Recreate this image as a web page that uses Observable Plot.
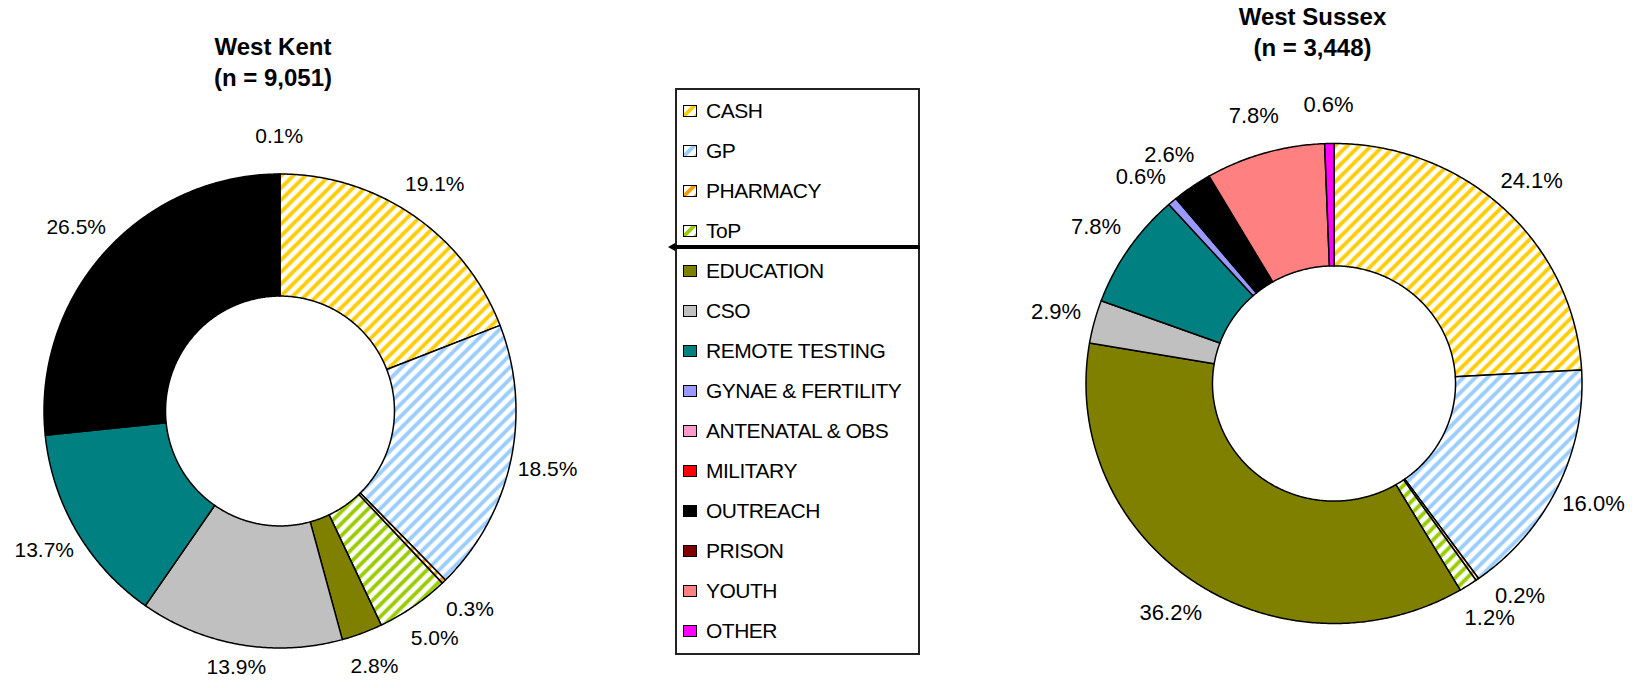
<!DOCTYPE html>
<html><head><meta charset="utf-8">
<script src="https://cdn.jsdelivr.net/npm/d3@7"></script>
<script src="https://cdn.jsdelivr.net/npm/@observablehq/plot@0.6"></script>
<style>
html,body{margin:0;padding:0;background:#fff;}
#page{position:relative;width:1646px;height:688px;overflow:hidden;font-family:"Liberation Sans",Arial,Helvetica,sans-serif;color:#000;}
.title{position:absolute;width:320px;text-align:center;font-weight:bold;font-size:24px;line-height:31px;white-space:nowrap;}
.chart{position:absolute;top:0;}
#legend{position:absolute;left:675px;top:88px;width:241px;height:563px;border:2px solid #222;}
.item{position:absolute;left:683px;height:24px;line-height:24px;font-size:21px;letter-spacing:-0.5px;white-space:nowrap;}
.item svg{position:absolute;left:0;top:6px;}
.item span{position:absolute;left:23px;top:0;}
#sep{position:absolute;left:674px;top:245px;width:246px;height:4px;background:#000;}
#sepTip{position:absolute;left:668px;top:243px;width:0;height:0;border-top:4px solid transparent;border-bottom:4px solid transparent;border-right:7px solid #000;}
</style></head>
<body><div id="page"><div id="legend"></div><div id="sep"></div><div id="sepTip"></div></div>
<script>
// ---- data ----
const categories = ["CASH","GP","PHARMACY","ToP","EDUCATION","CSO","REMOTE TESTING","GYNAE & FERTILITY","ANTENATAL & OBS","MILITARY","OUTREACH","PRISON","YOUTH","OTHER"];
const westKentValues   = [19.1, 18.5, 0.3, 5.0, 2.8, 13.9, 13.7, 0, 0, 0, 26.5, 0, 0.1, 0];
const westSussexValues = [24.1, 16.0, 0.2, 1.2, 36.2, 2.9, 7.8, 0.6, 0, 0, 2.6, 0, 7.8, 0.6];
const categoryColors = ["#FFCC00","#99CCFF","#FF9900","#99CC00","#808000","#C0C0C0","#008080","#9999FF","#FF99CC","#FF0000","#000000","#800000","#FF8080","#FF00FF"];
const hatchedCategories = ["CASH","GP","PHARMACY","ToP"];
const chartTitles = ["West Kent","West Sussex"];
const chartCounts = ["(n = 9,051)","(n = 3,448)"];
const chartValues = [westKentValues, westSussexValues];

// ---- layout ----
const H = 688;
const layouts = [
  {left:0,   width:640, cx:279.5,  cy:410.5, rx:236, ry:237, hole:0.485, fs:21, titleX:273,    titleTop:31},
  {left:940, width:706, cx:1333.5, cy:383,   rx:248, ry:240, hole:0.49,  fs:22, titleX:1312.5, titleTop:1}
];
const FONT = '"Liberation Sans", Arial, Helvetica, sans-serif';
const K = 1.16;
const BOTTOM_LIMIT = 676;

const page = d3.select("#page");

// hatch patterns
const defsSvg = page.append("svg").attr("width",0).attr("height",0).style("position","absolute");
const defs = defsSvg.append("defs");
categories.forEach((c,i) => {
  if (!hatchedCategories.includes(c)) return;
  const p = defs.append("pattern").attr("id","hatch"+i).attr("patternUnits","userSpaceOnUse").attr("width",12).attr("height",12);
  p.append("rect").attr("width",12).attr("height",12).attr("fill","#fff");
  p.append("path").attr("d","M-3,3 L3,-3 M0,12 L12,0 M9,15 L15,9")
    .attr("stroke",categoryColors[i]).attr("stroke-width",3.8).attr("fill","none");
});
const fillOf = i => hatchedCategories.includes(categories[i]) ? `url(#hatch${i})` : categoryColors[i];

const ctx = document.createElement("canvas").getContext("2d");

chartValues.forEach((values, ci) => {
  const L = layouts[ci];
  const total = d3.sum(values);
  const pts = [];
  const labels = [];
  let acc = 0;
  values.forEach((v, i) => {
    if (v <= 0) return;
    const a0 = acc / total * 2 * Math.PI;
    acc += v;
    const a1 = acc / total * 2 * Math.PI;
    const n = Math.max(2, Math.ceil((a1 - a0) / (Math.PI / 360)));
    const key = categories[i], fill = fillOf(i);
    const ring = [];
    for (let k = 0; k <= n; k++) { const a = a0 + (a1 - a0) * k / n; ring.push({x: Math.sin(a), y: Math.cos(a), key, fill}); }
    for (let k = n; k >= 0; k--) { const a = a0 + (a1 - a0) * k / n; ring.push({x: L.hole * Math.sin(a), y: L.hole * Math.cos(a), key, fill}); }
    ring.push({...ring[0]});
    pts.push(...ring);
    const text = v.toFixed(1) + "%";
    ctx.font = `${L.fs}px ${FONT}`;
    labels.push({a: (a0 + a1) / 2 * 180 / Math.PI, k: K, value: v, text, w: ctx.measureText(text).width, h: L.fs * 0.85});
  });

  const pix = l => { const r = l.a * Math.PI / 180; return [L.cx + Math.sin(r) * l.k * L.rx, L.cy - Math.cos(r) * l.k * L.ry]; };
  // keep labels inside the picture
  labels.forEach(l => { while (l.k > 1.05 && pix(l)[1] + l.h / 2 > BOTTOM_LIMIT) l.k -= 0.005; });
  // simple collision relaxation (move smaller slice's label)
  for (let it = 0; it < 400; it++) {
    let moved = false;
    for (let i = 0; i < labels.length; i++) for (let j = i + 1; j < labels.length; j++) {
      const A = labels[i], B = labels[j];
      const [ax, ay] = pix(A), [bx, by] = pix(B);
      if (Math.abs(ax - bx) < (A.w + B.w) / 2 + 3 && Math.abs(ay - by) < (A.h + B.h) / 2 + 3) {
        const d = ((B.a - A.a + 540) % 360) - 180;
        if (A.value <= B.value) A.a -= Math.sign(d) * 0.5; else B.a += Math.sign(d) * 0.5;
        moved = true;
      }
    }
    if (!moved) break;
  }
  labels.forEach(l => { const r = l.a * Math.PI / 180; l.x = l.k * Math.sin(r); l.y = l.k * Math.cos(r); });

  const cxl = L.cx - L.left;
  const plot = Plot.plot({
    width: L.width, height: H, margin: 0,
    style: {background: "transparent", fontFamily: FONT},
    x: {domain: [-cxl / L.rx, (L.width - cxl) / L.rx], axis: null},
    y: {domain: [-(H - L.cy) / L.ry, L.cy / L.ry], axis: null},
    color: {type: "identity"},
    marks: [
      Plot.line(pts, {x: "x", y: "y", z: "key", fill: "fill", stroke: "#000", strokeWidth: 1.5, strokeLinejoin: "round"}),
      Plot.text(labels, {x: "x", y: "y", text: "text", fontSize: L.fs, fill: "#000", fontFamily: FONT})
    ]
  });
  const holder = page.append("div").attr("class","chart").style("left", L.left + "px");
  holder.node().appendChild(plot);

  page.append("div").attr("class","title")
    .style("left", (L.titleX - 160) + "px").style("top", L.titleTop + "px")
    .html(`${chartTitles[ci]}<br>${chartCounts[ci]}`);
});

// legend
categories.forEach((c, i) => {
  const cyItem = 111 + 40 * i;
  const item = page.append("div").attr("class","item").style("top", (cyItem - 12) + "px");
  const s = item.append("svg").attr("width",14).attr("height",12);
  s.append("rect").attr("x",0.5).attr("y",0.5).attr("width",13).attr("height",11)
    .attr("fill", fillOf(i)).attr("stroke","#000").attr("stroke-width",1);
  item.append("span").text(c);
});
</script>
</body></html>
